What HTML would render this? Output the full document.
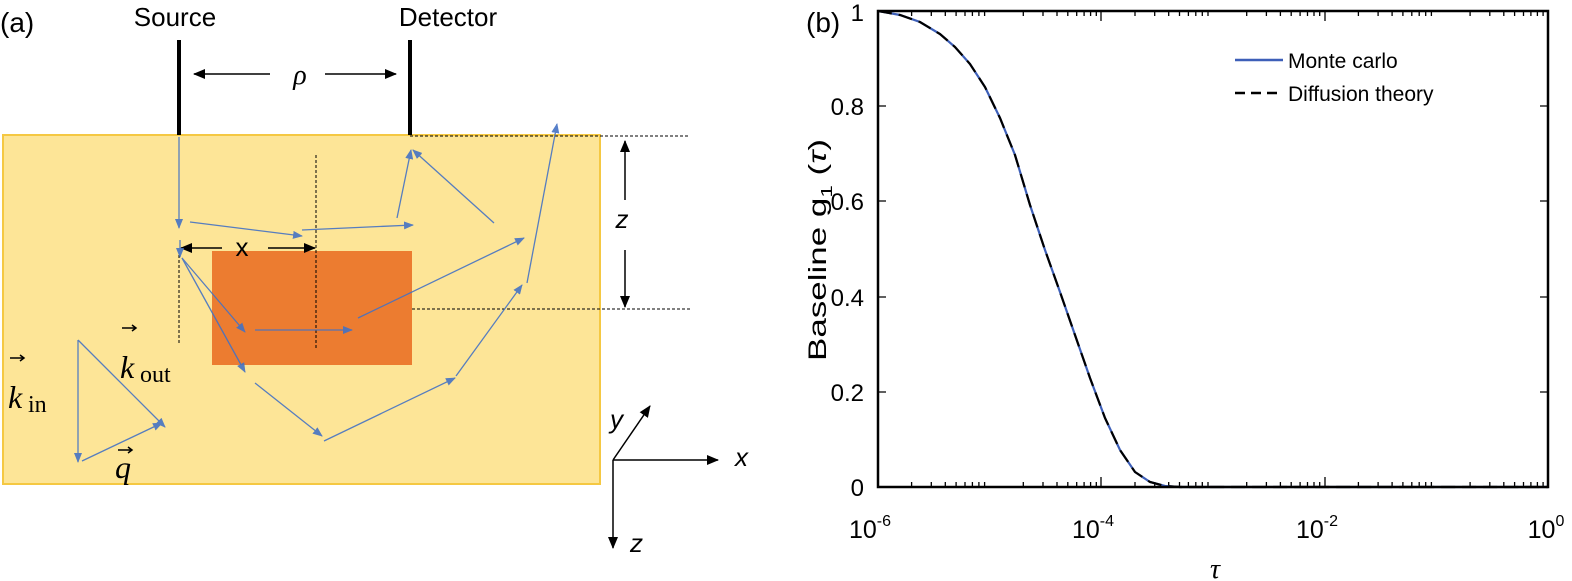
<!DOCTYPE html>
<html><head><meta charset="utf-8"><style>
html,body{margin:0;padding:0;background:#fff;}
svg{display:block;font-family:"Liberation Sans",sans-serif;}
</style></head><body>
<svg width="1572" height="581" viewBox="0 0 1572 581" xmlns="http://www.w3.org/2000/svg">
<defs>
<marker id="ab" markerWidth="10" markerHeight="8" refX="9" refY="4" orient="auto" markerUnits="userSpaceOnUse"><path d="M0,0 L10,4 L0,8 z" fill="#4472c4"/></marker>
<marker id="ak" markerWidth="12" markerHeight="10" refX="11" refY="5" orient="auto" markerUnits="userSpaceOnUse"><path d="M0,0 L12,5 L0,10 z" fill="#000"/></marker>
</defs>
<!-- panel a -->
<text x="0" y="32" font-size="28">(a)</text>
<text x="175" y="26" font-size="26" text-anchor="middle">Source</text>
<text x="448" y="26" font-size="26" text-anchor="middle">Detector</text>
<rect x="3" y="135" width="597" height="349" fill="#fde597" stroke="#f5c842" stroke-width="2"/>
<rect x="212" y="251" width="200" height="114" fill="#ec7c30"/>
<line x1="179" y1="40" x2="179" y2="135" stroke="#000" stroke-width="4"/>
<line x1="410" y1="40" x2="410" y2="135" stroke="#000" stroke-width="4"/>
<line x1="270" y1="74" x2="194" y2="74" stroke="#000" stroke-width="1.5" marker-end="url(#ak)"/>
<line x1="325" y1="74" x2="396" y2="74" stroke="#000" stroke-width="1.5" marker-end="url(#ak)"/>
<text x="300" y="84" font-size="28" font-style="italic" text-anchor="middle" font-family="Liberation Serif,serif">ρ</text>
<g stroke="#000" stroke-width="1" stroke-dasharray="3,2">
<line x1="410" y1="136" x2="690" y2="136"/>
<line x1="412" y1="309" x2="690" y2="309"/>
<line x1="179" y1="255" x2="179" y2="345"/>
<line x1="316" y1="155" x2="316" y2="350"/>
</g>
<line x1="222" y1="248" x2="181" y2="248" stroke="#000" stroke-width="1.5" marker-end="url(#ak)"/>
<line x1="268" y1="248" x2="315" y2="248" stroke="#000" stroke-width="1.5" marker-end="url(#ak)"/>
<text x="242" y="256" font-size="26" text-anchor="middle">x</text>
<line x1="625" y1="200" x2="625" y2="141" stroke="#000" stroke-width="1.5" marker-end="url(#ak)"/>
<line x1="625" y1="250" x2="625" y2="307" stroke="#000" stroke-width="1.5" marker-end="url(#ak)"/>
<text x="622" y="228" font-size="26" font-style="italic" text-anchor="middle">z</text>
<g stroke="#000" stroke-width="1.5">
<line x1="613" y1="460" x2="718" y2="460" marker-end="url(#ak)"/>
<line x1="613" y1="460" x2="650" y2="406" marker-end="url(#ak)"/>
<line x1="613" y1="460" x2="613" y2="548" marker-end="url(#ak)"/>
</g>
<text x="735" y="466" font-size="26" font-style="italic">x</text>
<text x="610" y="428" font-size="26" font-style="italic">y</text>
<text x="630" y="552" font-size="26" font-style="italic">z</text>
<g stroke="#4472c4" stroke-width="1.3" fill="none" marker-end="url(#ab)" opacity="0.9">
<line x1="179" y1="137" x2="179" y2="228"/>
<line x1="190" y1="222" x2="302" y2="236"/>
<line x1="302" y1="230" x2="413" y2="225"/>
<line x1="397" y1="218" x2="411" y2="150"/>
<line x1="494" y1="223" x2="413" y2="150"/>
<line x1="182" y1="258" x2="245" y2="332"/>
<line x1="182" y1="258" x2="245" y2="372"/>
<line x1="255" y1="330" x2="352" y2="330"/>
<line x1="358" y1="318" x2="524" y2="238"/>
<line x1="255" y1="383" x2="322" y2="436"/>
<line x1="324" y1="441" x2="455" y2="378"/>
<line x1="456" y1="376" x2="522" y2="285"/>
<line x1="527" y1="283" x2="557" y2="124"/>
<line x1="78" y1="340" x2="78" y2="462"/>
<line x1="78" y1="340" x2="165" y2="427"/>
<line x1="82" y1="461" x2="162" y2="423"/>
<line x1="180" y1="240" x2="180" y2="257"/>
</g>
<g font-family="Liberation Serif,serif" font-style="italic">
<text x="8" y="408" font-size="32">k</text><text x="28" y="412" font-size="24" font-style="normal">in</text>
<text x="120" y="378" font-size="32">k</text><text x="140" y="382" font-size="24" font-style="normal">out</text>
<text x="115" y="478" font-size="32">q</text>
</g>
<g stroke="#000" stroke-width="1.5" fill="none">
<path d="M10,358 h14 m-4,-3 l4,3 l-4,3"/>
<path d="M122,328 h14 m-4,-3 l4,3 l-4,3"/>
<path d="M118,450 h14 m-4,-3 l4,3 l-4,3"/>
</g>
<!-- panel b -->
<text x="806" y="32" font-size="28">(b)</text>
<g font-size="24" text-anchor="end">
<text x="864" y="21">1</text>
<text x="864" y="115">0.8</text>
<text x="864" y="210">0.6</text>
<text x="864" y="306">0.4</text>
<text x="864" y="401">0.2</text>
<text x="864" y="496">0</text>
</g>
<text transform="translate(826,250) rotate(-90)" font-size="25" text-anchor="middle" textLength="222" lengthAdjust="spacingAndGlyphs">Baseline g<tspan font-size="16" dy="6">1</tspan><tspan dy="-6"> (</tspan><tspan font-style="italic">τ</tspan>)</text>
<g font-size="25" text-anchor="middle">
<text x="870" y="538">10<tspan font-size="16" dy="-12">-6</tspan></text>
<text x="1093" y="538">10<tspan font-size="16" dy="-12">-4</tspan></text>
<text x="1317" y="538">10<tspan font-size="16" dy="-12">-2</tspan></text>
<text x="1546" y="538">10<tspan font-size="16" dy="-12">0</tspan></text>
</g>
<text x="1215" y="578" font-size="28" font-style="italic" text-anchor="middle" font-family="Liberation Serif,serif">τ</text>
<g stroke="#000" stroke-width="1.3">
<path d="M878,487v-10M1101,487v-10M1325,487v-10M1548,487v-10M878,11v10M1101,11v10M1325,11v10M1548,11v10"/>
<path d="
M911.6,487v-5M931.3,487v-5M945.3,487v-5M956.1,487v-5M965,487v-5M972.4,487v-5M978.9,487v-5M984.6,487v-5
M1023.3,487v-5M1043,487v-5M1057,487v-5M1067.8,487v-5M1076.7,487v-5M1084.1,487v-5M1090.6,487v-5M1096.3,487v-5
M1135,487v-5M1154.7,487v-5M1168.7,487v-5M1179.5,487v-5M1188.4,487v-5M1195.8,487v-5M1202.3,487v-5M1208,487v-5
M1246.7,487v-5M1266.4,487v-5M1280.4,487v-5M1291.2,487v-5M1300.1,487v-5M1307.5,487v-5M1314,487v-5M1319.7,487v-5
M1358.4,487v-5M1378.1,487v-5M1392.1,487v-5M1402.9,487v-5M1411.8,487v-5M1419.2,487v-5M1425.7,487v-5M1431.4,487v-5
M1470.1,487v-5M1489.8,487v-5M1503.8,487v-5M1514.6,487v-5M1523.5,487v-5M1530.9,487v-5M1537.4,487v-5M1543.1,487v-5
M911.6,11v5M931.3,11v5M945.3,11v5M956.1,11v5M965,11v5M972.4,11v5M978.9,11v5M984.6,11v5
M1023.3,11v5M1043,11v5M1057,11v5M1067.8,11v5M1076.7,11v5M1084.1,11v5M1090.6,11v5M1096.3,11v5
M1135,11v5M1154.7,11v5M1168.7,11v5M1179.5,11v5M1188.4,11v5M1195.8,11v5M1202.3,11v5M1208,11v5
M1246.7,11v5M1266.4,11v5M1280.4,11v5M1291.2,11v5M1300.1,11v5M1307.5,11v5M1314,11v5M1319.7,11v5
M1358.4,11v5M1378.1,11v5M1392.1,11v5M1402.9,11v5M1411.8,11v5M1419.2,11v5M1425.7,11v5M1431.4,11v5
M1470.1,11v5M1489.8,11v5M1503.8,11v5M1514.6,11v5M1523.5,11v5M1530.9,11v5M1537.4,11v5M1543.1,11v5"/>
<path d="M878,106h8M878,201h8M878,297h8M878,392h8M1548,106h-8M1548,201h-8M1548,297h-8M1548,392h-8"/>
</g>
<path d="M878,11 L900,15 L920,22 L940,34 L955,47 L970,64 L985,87 L1000,118 L1015,155 L1030,205 L1045,250 L1060,292 L1075,335 L1090,378 L1105,418 L1120,450 L1135,472 L1150,482 L1165,486 L1180,487 L1548,487" fill="none" stroke="#3d5fb8" stroke-width="2.2"/>
<path d="M878,11 L900,15 L920,22 L940,34 L955,47 L970,64 L985,87 L1000,118 L1015,155 L1030,205 L1045,250 L1060,292 L1075,335 L1090,378 L1105,418 L1120,450 L1135,472 L1150,482 L1165,486 L1180,487 L1548,487" fill="none" stroke="#000" stroke-width="2.2" stroke-dasharray="14,7"/>
<rect x="878" y="11" width="670" height="476" fill="none" stroke="#000" stroke-width="2.5"/>
<line x1="1235" y1="60" x2="1283" y2="60" stroke="#3d5fb8" stroke-width="2.5"/>
<text x="1288" y="68" font-size="21">Monte carlo</text>
<line x1="1235" y1="93" x2="1283" y2="93" stroke="#000" stroke-width="2.5" stroke-dasharray="10,6"/>
<text x="1288" y="101" font-size="21">Diffusion theory</text>
</svg>
</body></html>
